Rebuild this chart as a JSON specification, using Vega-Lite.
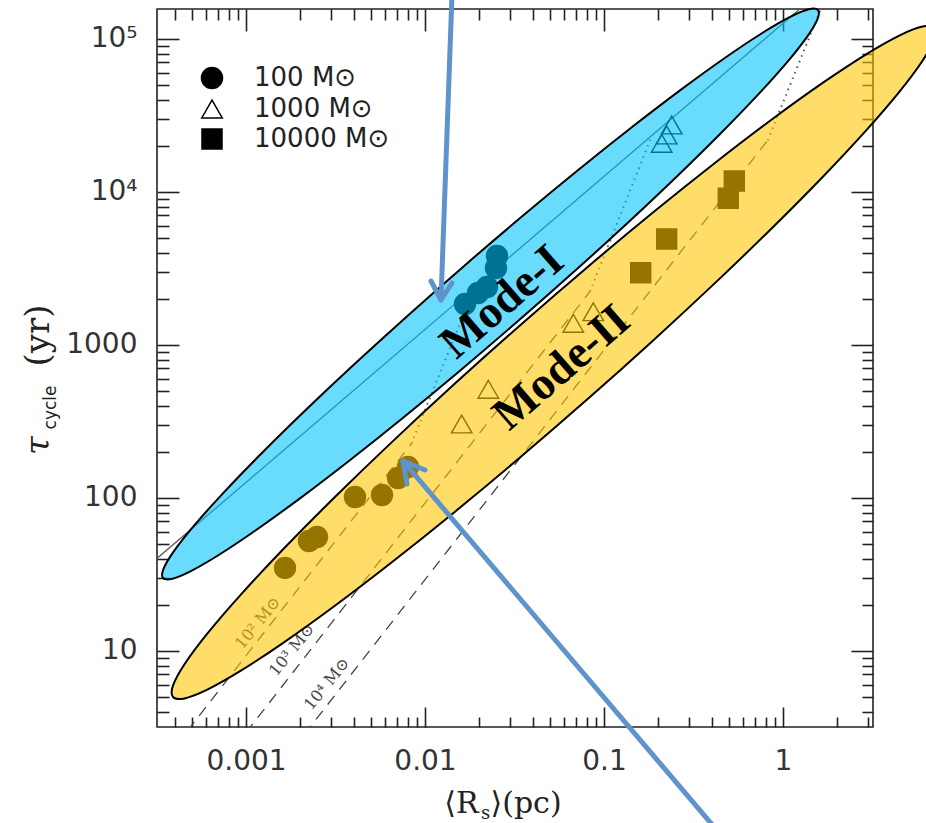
{
  "$schema": "https://vega.github.io/schema/vega-lite/v6.json",
  "width": 716,
  "height": 718,
  "autosize": "none",
  "padding": {"left": 157, "top": 9, "right": 53, "bottom": 96},
  "background": "white",
  "config": {
    "view": {"stroke": "#222", "strokeWidth": 1.6},
    "axis": {"grid": false, "domain": false, "tickColor": "#222", "tickWidth": 1.6,
             "labelFont": "DejaVu Sans", "labelFontSize": 28, "labelColor": "#333",
             "labelOverlap": false, "labelFlush": false}
  },
  "datasets": {
    "solid": [
      {"R": 0.0003, "tau": 37.77},
      {"R": 1.25, "tau": 157366}
    ],
    "dashed": [
      {"line": "1e2", "R": 0.0003, "tau": 1.523},
      {"line": "1e2", "R": 0.0084062, "tau": 225.88},
      {"line": "1e3", "R": 0.0003, "tau": 0.4794},
      {"line": "1e3", "R": 0.08352, "tau": 2226.9},
      {"line": "1e4", "R": 0.0003, "tau": 0.15124},
      {"line": "1e4", "R": 0.82243, "tau": 21712}
    ],
    "dotted": [
      {"track": "1e2", "R": 0.0084062, "tau": 225.88},
      {"track": "1e2", "R": 0.01895, "tau": 2385.6},
      {"track": "1e3", "R": 0.08352, "tau": 2226.9},
      {"track": "1e3", "R": 0.18514, "tau": 23308},
      {"track": "1e4", "R": 0.82243, "tau": 21712},
      {"track": "1e4", "R": 1.7673, "tau": 199526}
    ],
    "points": [
      {"mass": "100", "R": 0.025247, "tau": 3799},
      {"mass": "100", "R": 0.024923, "tau": 3172},
      {"mass": "100", "R": 0.022202, "tau": 2383},
      {"mass": "100", "R": 0.019775, "tau": 2177},
      {"mass": "100", "R": 0.016731, "tau": 1845},
      {"mass": "100", "R": 0.0016516, "tau": 34.77},
      {"mass": "100", "R": 0.002249, "tau": 52.12},
      {"mass": "100", "R": 0.0024923, "tau": 55.35},
      {"mass": "100", "R": 0.0040635, "tau": 101.06},
      {"mass": "100", "R": 0.0057517, "tau": 104.14},
      {"mass": "100", "R": 0.0070665, "tau": 134.52},
      {"mass": "100", "R": 0.0080353, "tau": 158.75},
      {"mass": "1000", "R": 0.016033, "tau": 303.18},
      {"mass": "1000", "R": 0.022573, "tau": 511.1},
      {"mass": "1000", "R": 0.067375, "tau": 1380},
      {"mass": "1000", "R": 0.087137, "tau": 1643},
      {"mass": "1000", "R": 0.23889, "tau": 27284},
      {"mass": "1000", "R": 0.22403, "tau": 23474},
      {"mass": "1000", "R": 0.21004, "tau": 20716},
      {"mass": "10000", "R": 0.16033, "tau": 2955.3},
      {"mass": "10000", "R": 0.22403, "tau": 4906.8},
      {"mass": "10000", "R": 0.49477, "tau": 9055.3},
      {"mass": "10000", "R": 0.53444, "tau": 11746}
    ],
    "dashlabels": [
      {"label": "10² M⊙", "R": 0.0011668, "tau": 15.171},
      {"label": "10³ M⊙", "R": 0.0018072, "tau": 10.106},
      {"label": "10⁴ M⊙", "R": 0.0028347, "tau": 6.0589}
    ],
    "modeI": [
      {"i": 0, "R": 1.5686, "tau": 154030}, {"i": 1, "R": 1.5567, "tau": 133780},
      {"i": 2, "R": 1.3595, "tau": 102490}, {"i": 3, "R": 1.0491, "tau": 69791},
      {"i": 4, "R": 0.7211, "tau": 42766}, {"i": 5, "R": 0.44658, "tau": 23933},
      {"i": 6, "R": 0.25276, "tau": 12442}, {"i": 7, "R": 0.13304, "tau": 6132.1},
      {"i": 8, "R": 0.06642, "tau": 2926.9}, {"i": 9, "R": 0.032122, "tau": 1384.5},
      {"i": 10, "R": 0.015385, "tau": 663.74}, {"i": 11, "R": 0.0074577, "tau": 329.61},
      {"i": 12, "R": 0.0037419, "tau": 173.26}, {"i": 13, "R": 0.0019848, "tau": 98.311},
      {"i": 14, "R": 0.001135, "tau": 61.278}, {"i": 15, "R": 0.00071122, "tau": 42.54},
      {"i": 16, "R": 0.00049523, "tau": 33.274}, {"i": 17, "R": 0.0003878, "tau": 29.539},
      {"i": 18, "R": 0.00034379, "tau": 29.868}, {"i": 19, "R": 0.00034642, "tau": 34.387},
      {"i": 20, "R": 0.00039665, "tau": 44.885}, {"i": 21, "R": 0.00051405, "tau": 65.918},
      {"i": 22, "R": 0.00074783, "tau": 107.57}, {"i": 23, "R": 0.0012075, "tau": 192.23},
      {"i": 24, "R": 0.0021335, "tau": 369.74}, {"i": 25, "R": 0.0040532, "tau": 750.24},
      {"i": 26, "R": 0.0081189, "tau": 1571.8}, {"i": 27, "R": 0.016788, "tau": 3322.8},
      {"i": 28, "R": 0.035051, "tau": 6931.1}, {"i": 29, "R": 0.072311, "tau": 13957},
      {"i": 30, "R": 0.14411, "tau": 26552}, {"i": 31, "R": 0.27171, "tau": 46795},
      {"i": 32, "R": 0.47512, "tau": 75077}, {"i": 33, "R": 0.75823, "tau": 108144},
      {"i": 34, "R": 1.0889, "tau": 138260}, {"i": 35, "R": 1.3905, "tau": 155740}
    ],
    "modeII": [
      {"i": 0, "R": 6.9759, "tau": 117490}, {"i": 1, "R": 6.9711, "tau": 98674},
      {"i": 2, "R": 6.0049, "tau": 71499}, {"i": 3, "R": 4.4771, "tau": 45112},
      {"i": 4, "R": 2.9154, "tau": 25159}, {"i": 5, "R": 1.6812, "tau": 12621},
      {"i": 6, "R": 0.87197, "tau": 5813}, {"i": 7, "R": 0.41515, "tau": 2516.5},
      {"i": 8, "R": 0.18557, "tau": 1050.8}, {"i": 9, "R": 0.079855, "tau": 434.81},
      {"i": 10, "R": 0.033923, "tau": 183.02}, {"i": 11, "R": 0.014595, "tau": 80.427},
      {"i": 12, "R": 0.0065268, "tau": 37.844}, {"i": 13, "R": 0.0031103, "tau": 19.512},
      {"i": 14, "R": 0.0016147, "tau": 11.254}, {"i": 15, "R": 0.00093154, "tau": 7.374},
      {"i": 16, "R": 0.00060744, "tau": 5.5629}, {"i": 17, "R": 0.00045342, "tau": 4.8753},
      {"i": 18, "R": 0.00039102, "tau": 4.982}, {"i": 19, "R": 0.00039129, "tau": 5.932},
      {"i": 20, "R": 0.00045425, "tau": 8.1865}, {"i": 21, "R": 0.00060926, "tau": 12.974},
      {"i": 22, "R": 0.00093562, "tau": 23.265}, {"i": 23, "R": 0.0016226, "tau": 46.376},
      {"i": 24, "R": 0.0031283, "tau": 100.69}, {"i": 25, "R": 0.0065706, "tau": 232.59},
      {"i": 26, "R": 0.014699, "tau": 557.05}, {"i": 27, "R": 0.034158, "tau": 1346.1},
      {"i": 28, "R": 0.080408, "tau": 3198.2}, {"i": 29, "R": 0.1869, "tau": 7277.9},
      {"i": 30, "R": 0.41793, "tau": 15467}, {"i": 31, "R": 0.877, "tau": 29999},
      {"i": 32, "R": 1.6893, "tau": 52012}, {"i": 33, "R": 2.9282, "tau": 79378},
      {"i": 34, "R": 4.4905, "tau": 105221}, {"i": 35, "R": 6.016, "tau": 120059}
    ],
    "modes": [
      {"label": "Mode-I", "R": 0.026928, "tau": 1901.6},
      {"label": "Mode-II", "R": 0.057889, "tau": 709.58}
    ],
    "arrows": [
      {"seg": "top-shaft", "i": 0, "R": 0.01415, "tau": 193030},
      {"seg": "top-shaft", "i": 1, "R": 0.012285, "tau": 1959.8},
      {"seg": "top-head", "i": 0, "R": 0.010802, "tau": 2608},
      {"seg": "top-head", "i": 1, "R": 0.012285, "tau": 1959.8},
      {"seg": "top-head", "i": 2, "R": 0.014151, "tau": 2531.1},
      {"seg": "bottom-shaft", "i": 0, "R": 0.41696, "tau": 0.69375},
      {"seg": "bottom-shaft", "i": 1, "R": 0.0075354, "tau": 173.74},
      {"seg": "bottom-head", "i": 0, "R": 0.0079323, "tau": 122.88},
      {"seg": "bottom-head", "i": 1, "R": 0.0075354, "tau": 173.74},
      {"seg": "bottom-head", "i": 2, "R": 0.01, "tau": 151.71}
    ]
  },
  "encoding": {
    "x": {"field": "R", "type": "quantitative", "axis": null,
          "scale": {"type": "log", "domain": [0.00031827, 3.1827], "nice": false, "zero": false}},
    "y": {"field": "tau", "type": "quantitative", "axis": null,
          "scale": {"type": "log", "domain": [3.1718, 156350], "nice": false, "zero": false}}
  },
  "layer": [
    {
      "data": {"name": "solid"},
      "mark": {"type": "line", "stroke": "#555", "strokeWidth": 1.3, "clip": true},
      "encoding": {
        "x": {"field": "R", "type": "quantitative",
              "scale": {"type": "log", "domain": [0.00031827, 3.1827], "nice": false, "zero": false},
              "axis": {"orient": "bottom", "values": [0.001, 0.01, 0.1, 1], "tickSize": -20, "labelPadding": 40, "title": null,
                       "labelExpr": "datum.value < 0.005 ? '0.001' : datum.value < 0.05 ? '0.01' : datum.value < 0.5 ? '0.1' : '1'"}},
        "y": {"field": "tau", "type": "quantitative",
              "scale": {"type": "log", "domain": [3.1718, 156350], "nice": false, "zero": false},
              "axis": {"orient": "left", "values": [10, 100, 1000, 10000, 100000], "tickSize": -22, "labelPadding": 42, "title": null,
                       "labelExpr": "datum.value > 50000 ? '10⁵' : datum.value > 5000 ? '10⁴' : datum.value > 500 ? '1000' : datum.value > 50 ? '100' : '10'"}}
      }
    },
    {
      "data": {"name": "dashed"},
      "mark": {"type": "line", "stroke": "#444", "strokeWidth": 1.3, "strokeDash": [11, 8], "clip": true},
      "encoding": {
        "detail": {"field": "line"},
        "x": {"field": "R", "type": "quantitative",
              "scale": {"type": "log", "domain": [0.00031827, 3.1827], "nice": false, "zero": false},
              "axis": {"orient": "bottom", "tickSize": -10, "labels": false, "title": null,
                       "values": [0.0004, 0.0005, 0.0006, 0.0007, 0.0008, 0.0009, 0.002, 0.003, 0.004, 0.005, 0.006, 0.007, 0.008, 0.009, 0.02, 0.03, 0.04, 0.05, 0.06, 0.07, 0.08, 0.09, 0.2, 0.3, 0.4, 0.5, 0.6, 0.7, 0.8, 0.9, 2, 3]}},
        "y": {"field": "tau", "type": "quantitative",
              "scale": {"type": "log", "domain": [3.1718, 156350], "nice": false, "zero": false},
              "axis": {"orient": "left", "tickSize": -12, "labels": false, "title": null,
                       "values": [4, 5, 6, 7, 8, 9, 20, 30, 40, 50, 60, 70, 80, 90, 200, 300, 400, 500, 600, 700, 800, 900, 2000, 3000, 4000, 5000, 6000, 7000, 8000, 9000, 20000, 30000, 40000, 50000, 60000, 70000, 80000, 90000]}}
      }
    },
    {
      "data": {"name": "dotted"},
      "mark": {"type": "line", "stroke": "#555", "strokeWidth": 2, "strokeDash": [1.5, 4.5], "clip": true},
      "encoding": {
        "detail": {"field": "track"},
        "x": {"field": "R", "type": "quantitative",
              "scale": {"type": "log", "domain": [0.00031827, 3.1827], "nice": false, "zero": false},
              "axis": {"orient": "top", "values": [0.001, 0.01, 0.1, 1], "tickSize": -22, "labels": false, "title": null}},
        "y": {"field": "tau", "type": "quantitative",
              "scale": {"type": "log", "domain": [3.1718, 156350], "nice": false, "zero": false},
              "axis": {"orient": "right", "values": [10, 100, 1000, 10000, 100000], "tickSize": -22, "labels": false, "title": null}}
      }
    },
    {
      "data": {"name": "points"},
      "mark": {"type": "point", "filled": true, "stroke": "black", "strokeWidth": 1.4, "opacity": 1},
      "encoding": {
        "x": {"field": "R", "type": "quantitative",
              "scale": {"type": "log", "domain": [0.00031827, 3.1827], "nice": false, "zero": false},
              "axis": {"orient": "top", "tickSize": -11, "labels": false, "title": null,
                       "values": [0.0004, 0.0005, 0.0006, 0.0007, 0.0008, 0.0009, 0.002, 0.003, 0.004, 0.005, 0.006, 0.007, 0.008, 0.009, 0.02, 0.03, 0.04, 0.05, 0.06, 0.07, 0.08, 0.09, 0.2, 0.3, 0.4, 0.5, 0.6, 0.7, 0.8, 0.9, 2, 3]}},
        "y": {"field": "tau", "type": "quantitative",
              "scale": {"type": "log", "domain": [3.1718, 156350], "nice": false, "zero": false},
              "axis": {"orient": "right", "tickSize": -11, "labels": false, "title": null,
                       "values": [4, 5, 6, 7, 8, 9, 20, 30, 40, 50, 60, 70, 80, 90, 200, 300, 400, 500, 600, 700, 800, 900, 2000, 3000, 4000, 5000, 6000, 7000, 8000, 9000, 20000, 30000, 40000, 50000, 60000, 70000, 80000, 90000]}},
        "shape": {"field": "mass", "type": "ordinal",
                  "scale": {"domain": ["100", "1000", "10000"], "range": ["circle", "triangle-up", "square"]},
                  "legend": {"orient": "none", "legendX": 42, "legendY": 56, "title": null, "padding": 0,
                             "labelFont": "DejaVu Sans", "labelFontSize": 26, "labelColor": "#222", "labelOffset": 29,
                             "rowPadding": 4, "labelExpr": "datum.label + '  M⊙'",
                             "encode": {"symbols": {"update": {"stroke": {"value": "black"}, "strokeWidth": {"value": 1.4}}}}}},
        "fill": {"field": "mass", "type": "ordinal",
                 "scale": {"domain": ["100", "1000", "10000"], "range": ["black", "transparent", "black"]},
                 "legend": {"orient": "none", "legendX": 42, "legendY": 56, "title": null, "padding": 0,
                            "labelFont": "DejaVu Sans", "labelFontSize": 26, "labelColor": "#222", "labelOffset": 29,
                            "rowPadding": 4, "labelExpr": "datum.label + '  M⊙'",
                            "encode": {"symbols": {"update": {"stroke": {"value": "black"}, "strokeWidth": {"value": 1.4}}}}}},
        "size": {"field": "mass", "type": "ordinal",
                 "scale": {"domain": ["100", "1000", "10000"], "range": [441, 400, 256]},
                 "legend": {"orient": "none", "legendX": 42, "legendY": 56, "title": null, "padding": 0,
                            "labelFont": "DejaVu Sans", "labelFontSize": 26, "labelColor": "#222", "labelOffset": 29,
                            "rowPadding": 4, "labelExpr": "datum.label + '  M⊙'",
                            "encode": {"symbols": {"update": {"stroke": {"value": "black"}, "strokeWidth": {"value": 1.4}}}}}}
      }
    },
    {
      "data": {"name": "dashlabels"},
      "mark": {"type": "text", "angle": 309, "font": "DejaVu Serif", "fontSize": 16, "color": "#444", "align": "center", "baseline": "middle"},
      "encoding": {
        "text": {"field": "label"},
        "x": {"field": "R", "type": "quantitative",
              "scale": {"type": "log", "domain": [0.00031827, 3.1827], "nice": false, "zero": false},
              "axis": {"orient": "bottom", "ticks": false, "labels": false, "domain": false, "title": "⟨R",
                       "titleX": 321, "titleY": 85, "titleAlign": "right", "titleBaseline": "alphabetic", "titleAngle": 0,
                       "titleFont": "DejaVu Serif", "titleFontSize": 30, "titleFontWeight": "normal", "titleColor": "#222"}},
        "y": {"field": "tau", "type": "quantitative",
              "scale": {"type": "log", "domain": [3.1718, 156350], "nice": false, "zero": false},
              "axis": {"orient": "left", "ticks": false, "labels": false, "domain": false, "title": "τ",
                       "titleX": -109, "titleY": 436, "titleAlign": "center", "titleBaseline": "alphabetic", "titleAngle": 270,
                       "titleFont": "DejaVu Serif", "titleFontSize": 34, "titleFontStyle": "italic", "titleFontWeight": "normal", "titleColor": "#222"}}
      }
    },
    {
      "data": {"name": "modeI"},
      "mark": {"type": "line", "interpolate": "cardinal-closed", "fill": "#00C4FE", "fillOpacity": 0.59, "stroke": "black", "strokeWidth": 2, "clip": false},
      "encoding": {
        "order": {"field": "i", "type": "quantitative"},
        "x": {"field": "R", "type": "quantitative",
              "scale": {"type": "log", "domain": [0.00031827, 3.1827], "nice": false, "zero": false},
              "axis": {"orient": "bottom", "ticks": false, "labels": false, "domain": false, "title": "s",
                       "titleX": 328, "titleY": 91, "titleAlign": "center", "titleBaseline": "alphabetic", "titleAngle": 0,
                       "titleFont": "DejaVu Serif", "titleFontSize": 18, "titleFontWeight": "normal", "titleColor": "#222"}},
        "y": {"field": "tau", "type": "quantitative",
              "scale": {"type": "log", "domain": [3.1718, 156350], "nice": false, "zero": false},
              "axis": {"orient": "left", "ticks": false, "labels": false, "domain": false, "title": "cycle",
                       "titleX": -102, "titleY": 398, "titleAlign": "center", "titleBaseline": "alphabetic", "titleAngle": 270,
                       "titleFont": "DejaVu Sans", "titleFontSize": 17, "titleFontWeight": "normal", "titleColor": "#222"}}
      }
    },
    {
      "data": {"name": "modeII"},
      "mark": {"type": "line", "interpolate": "cardinal-closed", "fill": "#FDC600", "fillOpacity": 0.59, "stroke": "black", "strokeWidth": 2, "clip": false},
      "encoding": {
        "order": {"field": "i", "type": "quantitative"},
        "x": {"field": "R", "type": "quantitative",
              "scale": {"type": "log", "domain": [0.00031827, 3.1827], "nice": false, "zero": false},
              "axis": {"orient": "bottom", "ticks": false, "labels": false, "domain": false, "title": "⟩(pc)",
                       "titleX": 333, "titleY": 85, "titleAlign": "left", "titleBaseline": "alphabetic", "titleAngle": 0,
                       "titleFont": "DejaVu Serif", "titleFontSize": 30, "titleFontWeight": "normal", "titleColor": "#222"}},
        "y": {"field": "tau", "type": "quantitative",
              "scale": {"type": "log", "domain": [3.1718, 156350], "nice": false, "zero": false},
              "axis": {"orient": "left", "ticks": false, "labels": false, "domain": false, "title": "(yr)",
                       "titleX": -109, "titleY": 326, "titleAlign": "center", "titleBaseline": "alphabetic", "titleAngle": 270,
                       "titleFont": "DejaVu Serif", "titleFontSize": 34, "titleFontWeight": "normal", "titleColor": "#222"}}
      }
    },
    {
      "data": {"name": "modes"},
      "mark": {"type": "text", "angle": 319, "font": "Liberation Serif", "fontWeight": "bold", "fontSize": 46, "color": "black", "align": "center", "baseline": "middle"},
      "encoding": {"text": {"field": "label"}}
    },
    {
      "data": {"name": "arrows"},
      "mark": {"type": "line", "stroke": "#5F93CB", "strokeWidth": 5, "strokeCap": "round", "strokeJoin": "round", "clip": false},
      "encoding": {
        "detail": {"field": "seg"},
        "order": {"field": "i", "type": "quantitative"}
      }
    }
  ],
  "resolve": {"axis": {"x": "independent", "y": "independent"}}
}
